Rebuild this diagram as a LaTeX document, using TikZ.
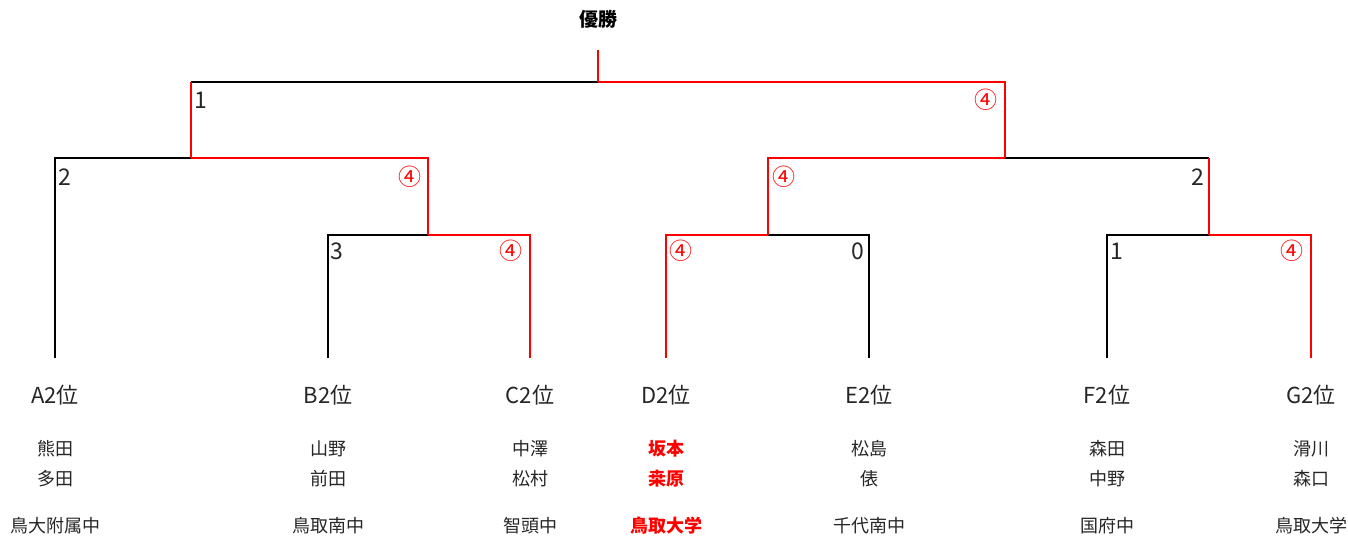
\documentclass[tikz,border=0pt]{standalone}
\usepackage{fontspec}
\setmainfont{Noto Sans CJK JP}
\usetikzlibrary{positioning}
\definecolor{txt}{gray}{0.15}
\tikzset{
  win/.style={red, line width=1.6pt},
  lose/.style={black, line width=1.6pt},
  team/.style={text=txt, font=\fontsize{22}{26}\selectfont},
  player/.style={text=txt, font=\fontsize{18}{22}\selectfont},
  champ/.style={text=red, font=\fontsize{18}{22}\selectfont\bfseries},
  score/.style={text=txt, font=\fontsize{23}{27}\selectfont, inner sep=0pt},
  wscore/.style={score, text=red},
}
\begin{document}
\begin{tikzpicture}[x=1pt, y=-1pt]
    \useasboundingbox (0,0) rectangle (1348,535);
    %teams
    \foreach \id/\x/\st/\lab/\pa/\pb/\sch in {a/55/player/A2位/熊田/多田/鳥大附属中,
        b/328/player/B2位/山野/前田/鳥取南中,
        c/530/player/C2位/中澤/松村/智頭中,
        d/666/champ/D2位/坂本/桒原/鳥取大学,
        e/869/player/E2位/松島/俵/千代南中,
        f/1107/player/F2位/森田/中野/国府中,
        g/1311/player/G2位/滑川/森口/鳥取大学}
        {%
            \coordinate (\id) at (\x,358);
            \node[team] (\id lab) at (\x,395) {\lab};
            \node[\st] (\id p1) at (\x,449) {\pa};
            \node[\st] (\id p2) at (\x,479) {\pb};
            \node[\st] (\id sch) at (\x,526) {\sch};
        }
    %joints
    \coordinate (bc) at (428,235);
    \coordinate (de) at (768,235);
    \coordinate (fg) at (1209,235);
    \coordinate (abc) at (191,158);
    \coordinate (defg) at (1005,158);
    \coordinate (top) at (598,82);
    \coordinate (cup) at (598,50);
    \node[font=\fontsize{19}{22}\selectfont\bfseries] (title) at (598,19) {優勝};
    %draw lines
    \draw[lose] (a) |- (abc);
    \draw[lose] (b) |- (bc);
    \draw[lose] (e) |- (de);
    \draw[lose] (f) |- (fg);
    \draw[lose] (abc |- top) -- (top);
    \draw[lose] (defg) -- (fg |- defg);
    \draw[win] (c) |- (bc);
    \draw[win] (bc) |- (abc);
    \draw[win] (abc) -- (abc |- top);
    \draw[win] (g) |- (fg);
    \draw[win] (fg) -- (fg |- defg);
    \draw[win] (d) |- (de);
    \draw[win] (de) |- (defg);
    \draw[win] (defg) |- (top);
    \draw[win] (top) -- (cup);
    %scores
    \node[score] (s1) at (201,100) {1};
    \node[wscore] (s2) at (986,100) {④};
    \node[score] (s3) at (65,177) {2};
    \node[wscore] (s4) at (410,177) {④};
    \node[wscore] (s5) at (784,177) {④};
    \node[score] (s6) at (1198,177) {2};
    \node[score] (s7) at (337,251) {3};
    \node[wscore] (s8) at (511,251) {④};
    \node[wscore] (s9) at (681,251) {④};
    \node[score] (s10) at (858,251) {0};
    \node[score] (s11) at (1117,251) {1};
    \node[wscore] (s12) at (1292,251) {④};
\end{tikzpicture}
\end{document}
